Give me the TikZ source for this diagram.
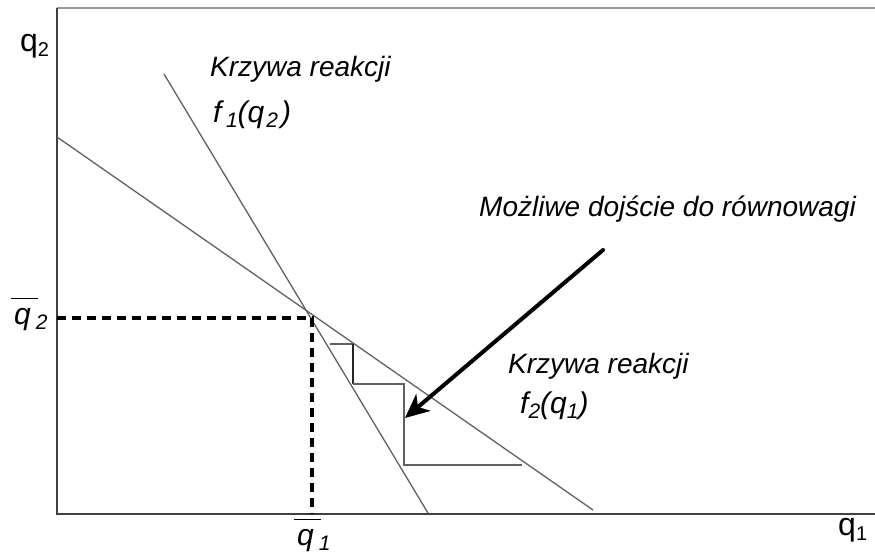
\documentclass[tikz,border=0pt]{standalone}
\usepackage{fontspec}
\setmainfont{Liberation Sans}
\usetikzlibrary{arrows.meta}
\newcommand{\subsc}[1]{\raisebox{-5pt}{\fontsize{21}{23}\selectfont #1}}
\newcommand{\barq}{\makebox[0pt][l]{\hspace{-3pt}\rule[25pt]{27pt}{1.2pt}}q}
\begin{document}
\begin{tikzpicture}[x=1pt,y=-1pt,
  axisline/.style={line width=2pt, draw=black!75},
  topline/.style={line width=2pt, draw=black!40},
  curve/.style={line width=1.3pt, draw=black!62},
  eqdash/.style={line width=4pt, dash pattern=on 9pt off 6pt},
  stair/.style={line width=1.5pt, draw=black!62},
  pointer/.style={line width=4pt, line cap=round, -{Stealth[length=24pt,width=22pt,inset=7pt]}},
  axlbl/.style={anchor=base west, inner sep=0pt, font=\fontsize{32}{36}\selectfont},
  barlbl/.style={anchor=base west, inner sep=0pt, font=\fontsize{30}{34}\selectfont\itshape},
  fnlbl/.style={anchor=base west, inner sep=0pt, font=\fontsize{30}{34}\selectfont\itshape},
  itlbl/.style={anchor=base west, inner sep=0pt, font=\fontsize{28}{32}\selectfont\itshape}]
\useasboundingbox (0,0) rectangle (875,556);
% axes
\coordinate (O) at (57,514);
\coordinate (Ytop) at (57,8);
\coordinate (Xend) at (875,514);
\coordinate (TRend) at (875,8);
\draw[topline] (Ytop) -- (TRend);
\draw[axisline] (Ytop) -- (O) -- (Xend);
% reaction curves
\coordinate (f1a) at (164,74);
\coordinate (f1b) at (428,513);
\coordinate (f2a) at (57,137);
\coordinate (f2b) at (593,510);
\draw[curve] (f1a) -- (f1b);
\draw[curve] (f2a) -- (f2b);
% equilibrium
\coordinate (Yeq) at (57,318);
\coordinate (E) at (312,318);
\coordinate (Xeq) at (312,514);
\draw[eqdash] (Yeq) -- (E) -- (Xeq);
% staircase
\coordinate (s1) at (330,344);
\coordinate (s2) at (353,344);
\coordinate (s3) at (353,384);
\coordinate (s4) at (404,384);
\coordinate (s5) at (404,465);
\coordinate (s6) at (522,465);
\draw[stair] (s1) -- (s2);
\draw[stair, draw=black!85] (s2) -- (s3);
\draw[stair] (s3) -- (s4) -- (s5) -- (s6);
% pointer arrow
\coordinate (pa) at (603,250);
\coordinate (pb) at (405,418);
\draw[pointer] (pa) -- (pb);
% labels
\node[axlbl] (lq2) at (20,52) {q\raisebox{-5pt}{\fontsize{20}{22}\selectfont 2}};
\node[axlbl] (lq1) at (838,535) {q\raisebox{-5pt}{\fontsize{20}{22}\selectfont 1}};
\node[barlbl] (lbq2) at (14,324) {\barq\hspace{5pt}\subsc{2}};
\node[barlbl] (lbq1) at (297,545) {\barq\hspace{5pt}\subsc{1}};
\node[itlbl] (k1) at (210,77) {Krzywa reakcji};
\node[fnlbl] (f1) at (213,123) {f\hspace{4.5pt}\subsc{1}(q\hspace{2pt}\subsc{2}\hspace{3pt})};
\node[itlbl] (mozl) at (479,217) {Możliwe dojście do równowagi};
\node[itlbl] (k2) at (508,373) {Krzywa reakcji};
\node[fnlbl] (f2) at (520,413) {f\subsc{2}(q\subsc{1})};
\end{tikzpicture}
\end{document}
